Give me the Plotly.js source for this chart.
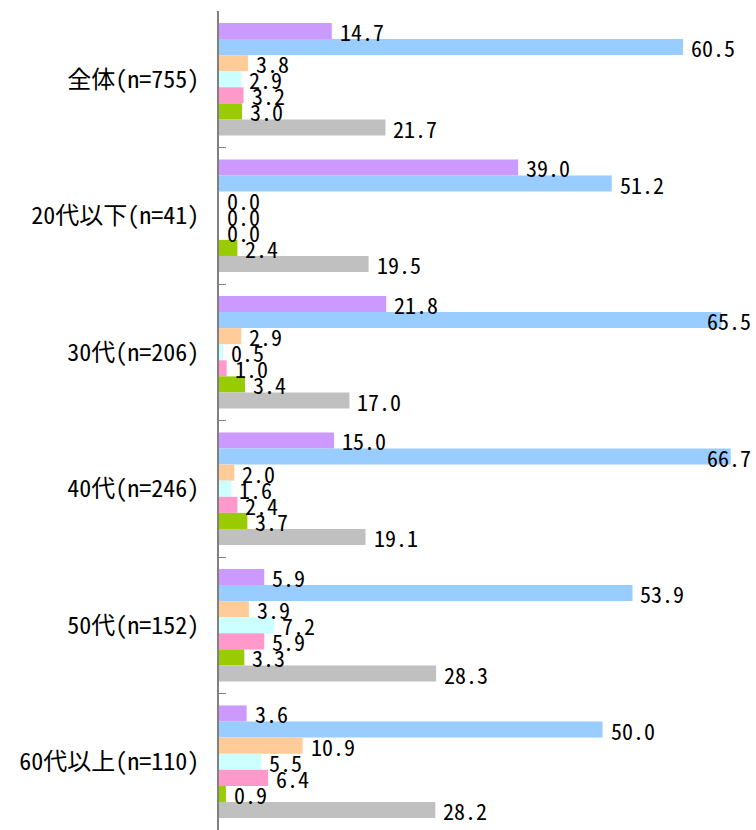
<!DOCTYPE html>
<html>
<head>
<meta charset="utf-8">
<script src="https://cdn.plot.ly/plotly-3.0.1.min.js"></script>
<style>html,body{margin:0;padding:0;background:#fff;}</style>
</head>
<body>
<div id="chart" style="width:756px;height:830px;"></div>
<script>
const categories = ["全体(n=755)", "20代以下(n=41)", "30代(n=206)", "40代(n=246)", "50代(n=152)", "60代以上(n=110)"];
const s1 = [14.7, 39.0, 21.8, 15.0, 5.9, 3.6];
const s2 = [60.5, 51.2, 65.5, 66.7, 53.9, 50.0];
const s3 = [3.8, 0.0, 2.9, 2.0, 3.9, 10.9];
const s4 = [2.9, 0.0, 0.5, 1.6, 7.2, 5.5];
const s5 = [3.2, 0.0, 1.0, 2.4, 5.9, 6.4];
const s6 = [3.0, 2.4, 3.4, 3.7, 3.3, 0.9];
const s7 = [21.7, 19.5, 17.0, 19.1, 28.3, 28.2];
const seriesList = [s1, s2, s3, s4, s5, s6, s7];
const colors = ["#cc99ff", "#99ccff", "#ffcc99", "#ccffff", "#ff99cc", "#99cc00", "#c0c0c0"];

const FONT = "'Noto Sans Mono CJK JP', 'Noto Sans CJK JP', 'DejaVu Sans Mono', monospace";
const XMAX = 70;
const OVER = 62;
const BARGAP = 0.175;
const nS = seriesList.length;
const slot = (1 - BARGAP) / nS;

const traces = seriesList.map((vals, i) => ({
  type: "bar",
  orientation: "h",
  y: categories,
  x: vals,
  marker: {color: colors[i]},
  hoverinfo: "none",
  showlegend: false
}));

const annotations = [];
seriesList.forEach((vals, i) => {
  vals.forEach((v, j) => {
    const yPos = j + (i - (nS - 1) / 2) * slot;
    const base = {
      yref: "y", y: yPos, yshift: 0,
      text: v.toFixed(1), showarrow: false,
      font: {family: FONT, size: 22, color: "#000"}
    };
    if (v > OVER) {
      annotations.push(Object.assign(base, {xref: "paper", x: 1, xanchor: "right", xshift: -3}));
    } else {
      annotations.push(Object.assign(base, {xref: "x", x: v, xanchor: "left", xshift: 6}));
    }
  });
});

const layout = {
  width: 756, height: 830,
  margin: {l: 219, r: 0, t: 11, b: 0},
  paper_bgcolor: "#fff", plot_bgcolor: "#fff",
  barmode: "group",
  bargap: BARGAP,
  bargroupgap: 0,
  xaxis: {range: [0, XMAX], visible: false, showgrid: false, zeroline: false},
  yaxis: {
    autorange: "reversed",
    showline: true, linecolor: "#808080", linewidth: 2,
    ticks: "inside", tickson: "boundaries", ticklen: 7, tickcolor: "#808080",
    showgrid: false, zeroline: false,
    tickfont: {family: FONT, size: 24, color: "#000"},
    ticklabelstandoff: 13
  },
  annotations: annotations,
  font: {family: FONT}
};

Plotly.newPlot("chart", traces, layout, {staticPlot: true});
</script>
</body>
</html>
